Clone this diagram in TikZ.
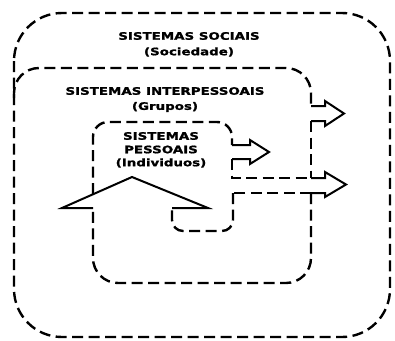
\documentclass[tikz,border=0pt]{standalone}
\usepackage{fontspec}
\newfontfamily\labfont{DejaVu Sans Bold}[FakeStretch=1.3,FakeBold=1.5]
\begin{document}
\begin{tikzpicture}[x=1pt,y=-1pt,
  dl/.style={line width=2.4pt, dash pattern=on 11pt off 5.5pt},
  sl/.style={line width=2pt, line join=miter},
  lab/.style={font=\labfont\fontsize{10.3}{12}\selectfont, text=black, inner sep=0pt}]
\useasboundingbox (0,0) rectangle (395,340);
% outer box
\draw[dl, rounded corners=48pt] (14,13) rectangle (390,337);
% middle box top
\draw[dl, rounded corners=25pt] (14,98) -- (14,68) -- (311,68) -- (311,106);
\draw[sl] (311,106) -- (325,106) -- (325,101) -- (344,113.5) -- (325,126) -- (325,121) -- (311,121);
\draw[dl] (311,121) -- (311,178);
% inner box
\draw[dl, rounded corners=15pt] (93,194) -- (93,122) -- (232,122) -- (232,145);
\draw[sl] (232,145) -- (250,145) -- (250,140) -- (269,152) -- (250,164) -- (250,159) -- (232,159);
\draw[dl] (232,159) -- (232,178) -- (311,178);
% lower arrow
\draw[sl] (311,178) -- (325,178) -- (325,172) -- (346,184.5) -- (325,197) -- (325,193) -- (311,193);
\draw[dl] (311,193) -- (233,193);
\draw[dl, rounded corners=11pt] (233,193) -- (233,231) -- (172,231) -- (172,208);
% big arrow
\draw[sl] (172,208) -- (208,208) -- (132,177) -- (62,208) -- (93,208);
% bottom U
\draw[dl, rounded corners=25pt] (311,193) -- (311,283) -- (93,283) -- (93,208);
% labels
\node[lab] (soc) at (189,36) {SISTEMAS SOCIAIS};
\node[lab] (socb) at (189,52) {(Sociedade)};
\node[lab] (int) at (165,91) {SISTEMAS INTERPESSOAIS};
\node[lab] (intb) at (165,107) {(Grupos)};
\node[lab] (pes1) at (161,136) {SISTEMAS};
\node[lab] (pes2) at (161,149.5) {PESSOAIS};
\node[lab] (pes3) at (161,163) {(Individuos)};
\end{tikzpicture}
\end{document}
